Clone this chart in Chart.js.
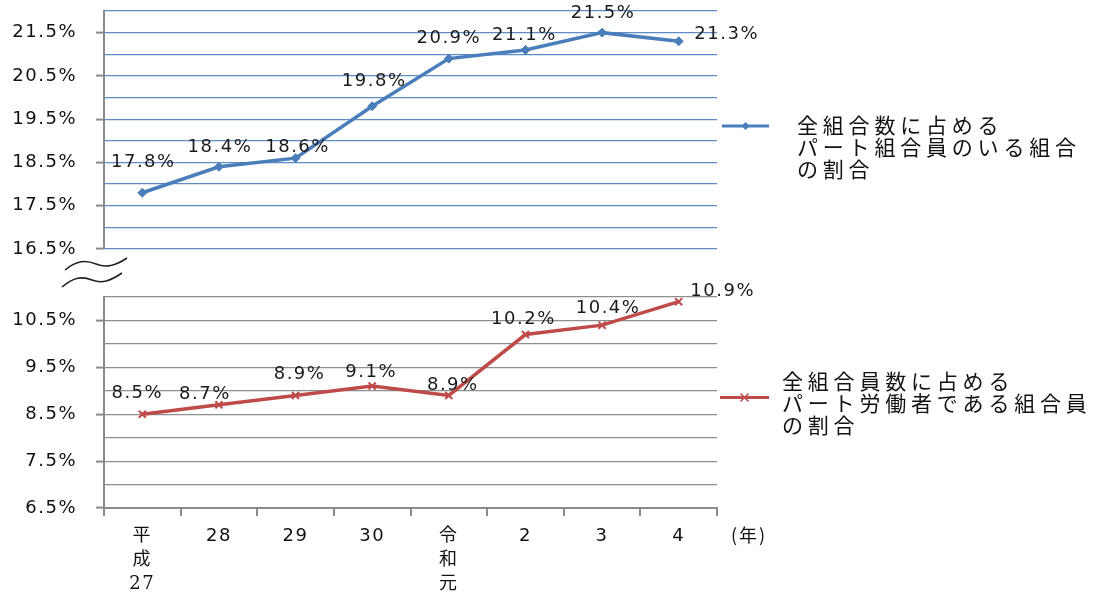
<!DOCTYPE html>
<html>
<head>
<meta charset="utf-8">
<script src="https://cdn.jsdelivr.net/npm/chart.js@4"></script>
<style>
  html, body { margin:0; padding:0; background:#fff; }
  #wrap { position:relative; width:1093px; height:596px; overflow:hidden; }
  canvas { position:absolute; left:0; top:0; }
</style>
</head>
<body>
<div id="wrap">
  <canvas id="bottom" width="1093" height="596"></canvas>
  <canvas id="top" width="1093" height="596"></canvas>
</div>
<script>
// ---- data ----
const categories = [['平','成','27'], '28', '29', '30', ['令','和','元'], '2', '3', '4'];
const unionShare = [17.8, 18.4, 18.6, 19.8, 20.9, 21.1, 21.5, 21.3];   // 全組合数に占めるパート組合員のいる組合の割合
const workerShare = [8.5, 8.7, 8.9, 9.1, 8.9, 10.2, 10.4, 10.9];       // 全組合員数に占めるパート労働者である組合員の割合
const unionLegend = ['全組合数に占める', 'パート組合員のいる組合', 'の割合'];
const workerLegend = ['全組合員数に占める', 'パート労働者である組合員', 'の割合'];
const yearUnit = '(年)';
const topRange = [16.5, 22.0];
const bottomRange = [6.5, 11.0];

// ---- styles ----
const BLUE = '#4A7EBB';
const RED = '#BE4B48';
const NUM_FONT = '"DejaVu Sans", "Noto Sans CJK JP", sans-serif';
const CJK_FONT = '"Noto Sans CJK JP", "DejaVu Sans", sans-serif';

const W = 1093, H = 596;
const AREA_LEFT = 104, AREA_RIGHT = 717;

function tickLabel(range) {
  return function (v) {
    const k = Math.round((v - range[0]) * 2);
    if (k % 2 === 0 && v < range[1] - 0.1) return v.toFixed(1) + '%';
    return '';
  };
}

const spacingPlugin = {
  id: 'spacing',
  beforeDraw(chart) { chart.ctx.letterSpacing = '1.5px'; }
};

const labelPlugin = {
  id: 'valueLabels',
  afterDatasetsDraw(chart, args, opts) {
    const ctx = chart.ctx;
    const meta = chart.getDatasetMeta(0);
    const vals = chart.data.datasets[0].data;
    ctx.save();
    ctx.letterSpacing = '1.5px';
    ctx.font = '18px ' + NUM_FONT;
    ctx.fillStyle = '#1a1a1a';
    ctx.textAlign = 'center';
    ctx.textBaseline = 'middle';
    meta.data.forEach((pt, i) => {
      const s = opts.shift[i] || [0, -20];
      ctx.fillText(vals[i].toFixed(1) + '%', pt.x + s[0], pt.y + s[1]);
    });
    ctx.restore();
  }
};

const legendPlugin = {
  id: 'sideLegend',
  afterDraw(chart, args, opts) {
    const ctx = chart.ctx;
    const a = chart.chartArea;
    const cy = (a.top + a.bottom) / 2 + opts.dy;
    ctx.save();
    ctx.strokeStyle = opts.color;
    ctx.lineWidth = 3;
    ctx.beginPath();
    ctx.moveTo(a.right + opts.lineFrom, cy);
    ctx.lineTo(a.right + 52, cy);
    ctx.stroke();
    const mx = a.right + (opts.lineFrom + 52) / 2;
    if (opts.marker === 'diamond') {
      ctx.fillStyle = opts.color;
      ctx.beginPath();
      ctx.moveTo(mx, cy - 4); ctx.lineTo(mx + 4, cy); ctx.lineTo(mx, cy + 4); ctx.lineTo(mx - 4, cy);
      ctx.closePath(); ctx.fill();
    } else {
      ctx.lineWidth = 1.5;
      ctx.beginPath();
      ctx.moveTo(mx - 4, cy - 4); ctx.lineTo(mx + 4, cy + 4);
      ctx.moveTo(mx + 4, cy - 4); ctx.lineTo(mx - 4, cy + 4);
      ctx.stroke();
    }
    ctx.fillStyle = '#111';
    ctx.font = '21px ' + CJK_FONT;
    ctx.letterSpacing = '4.8px';
    ctx.textAlign = 'left';
    ctx.textBaseline = 'middle';
    opts.lines.forEach((t, i) => ctx.fillText(t, a.right + opts.textX, cy + opts.textDy + i * 22));
    ctx.restore();
  }
};

const breakPlugin = {
  id: 'breakMark',
  afterDraw(chart) {
    const ctx = chart.ctx;
    const a = chart.chartArea;
    const x0 = a.left, y0 = a.bottom;
    ctx.save();
    ctx.strokeStyle = '#222';
    ctx.lineWidth = 1.6;
    const wave = (sx, sy, ex, ey) => {
      const mx = (sx + ex) / 2, my = (sy + ey) / 2;
      ctx.beginPath();
      ctx.moveTo(sx, sy);
      ctx.bezierCurveTo(sx + 12, sy - 10, mx - 10, my - 4, mx, my);
      ctx.bezierCurveTo(mx + 10, my + 4, ex - 12, ey + 8, ex, ey);
      ctx.stroke();
    };
    wave(x0 - 39, y0 + 21, x0 + 23, y0 + 9);
    wave(x0 - 42, y0 + 38, x0 + 18, y0 + 24);
    ctx.restore();
  }
};

const unitPlugin = {
  id: 'yearUnit',
  afterDraw(chart) {
    const ctx = chart.ctx;
    const a = chart.chartArea;
    ctx.save();
    ctx.font = '18px ' + CJK_FONT;
    ctx.letterSpacing = '2px';
    ctx.fillStyle = '#111';
    ctx.textAlign = 'center';
    ctx.textBaseline = 'middle';
    ctx.fillText(yearUnit, a.right + 32, a.bottom + 27);
    ctx.restore();
  }
};

function yScale(range, gridColor) {
  return {
    min: range[0], max: range[1],
    afterFit(s) { s.width = AREA_LEFT; s.paddingTop = 0; s.paddingBottom = 0; },
    ticks: {
      stepSize: 0.5, autoSkip: false,
      callback: tickLabel(range),
      padding: 19, color: '#111',
      font: { family: NUM_FONT, size: 18 }
    },
    grid: {
      color: gridColor, lineWidth: 1.2, tickLength: 8,
      tickColor: (c) => (c.tick && c.tick.label) ? '#8a8a8a' : 'rgba(0,0,0,0)',
      tickWidth: 2
    },
    border: { color: '#8a8a8a', width: 2 }
  };
}

// top panel
new Chart(document.getElementById('top'), {
  type: 'line',
  data: {
    labels: categories,
    datasets: [{
      label: unionLegend.join(''),
      data: unionShare,
      borderColor: BLUE, backgroundColor: BLUE,
      borderWidth: 3.5, pointStyle: 'rectRot', pointRadius: 4.5,
      pointBorderWidth: 1, tension: 0, clip: false
    }]
  },
  options: {
    responsive: false, animation: false, devicePixelRatio: 1,
    layout: { padding: { top: 11, bottom: H - 249, right: W - AREA_RIGHT, left: 0 } },
    plugins: {
      legend: { display: false }, tooltip: { enabled: false },
      valueLabels: { shift: [[1, -30], [1, -19], [2, -11], [2, -25], [0, -20], [-1, -15], [1, -19], [48, -7]] },
      sideLegend: { color: BLUE, marker: 'diamond', lines: unionLegend, dy: -4, lineFrom: 5, textX: 80, textDy: -1 }
    },
    scales: {
      x: { display: false, offset: true },
      y: yScale(topRange, '#5f8cc6')
    }
  },
  plugins: [spacingPlugin, labelPlugin, legendPlugin, breakPlugin]
});

// bottom panel
new Chart(document.getElementById('bottom'), {
  type: 'line',
  data: {
    labels: categories,
    datasets: [{
      label: workerLegend.join(''),
      data: workerShare,
      borderColor: RED, backgroundColor: RED,
      borderWidth: 3.5, pointStyle: 'crossRot', pointRadius: 5,
      pointBorderWidth: 2, tension: 0, clip: false
    }]
  },
  options: {
    responsive: false, animation: false, devicePixelRatio: 1,
    layout: { padding: { top: 297, bottom: 0, right: W - AREA_RIGHT, left: 0 } },
    plugins: {
      legend: { display: false }, tooltip: { enabled: false },
      valueLabels: { shift: [[-5, -21], [-14, -11], [4, -21], [-1, -14], [4, -10], [-2, -15], [6, -17], [44, -10]] },
      sideLegend: { color: RED, marker: 'cross', lines: workerLegend, dy: -5, lineFrom: 3, textX: 65, textDy: -16 }
    },
    scales: {
      x: {
        offset: true,
        afterFit(s) { s.height = H - 508; },
        grid: { offset: true, drawOnChartArea: false, tickLength: 8, color: '#8a8a8a', lineWidth: 2 },
        border: { color: '#8a8a8a', width: 2 },
        ticks: {
          autoSkip: false, maxRotation: 0, padding: 8, color: '#111',
          font: (c) => ({ family: (c.index === 0 || c.index === 4) ? '"DejaVu Serif", "Noto Sans CJK JP", serif' : NUM_FONT, size: 18, lineHeight: 1.33 })
        }
      },
      y: yScale(bottomRange, '#8e8e8e')
    }
  },
  plugins: [spacingPlugin, labelPlugin, legendPlugin, unitPlugin]
});
</script>
</body>
</html>
